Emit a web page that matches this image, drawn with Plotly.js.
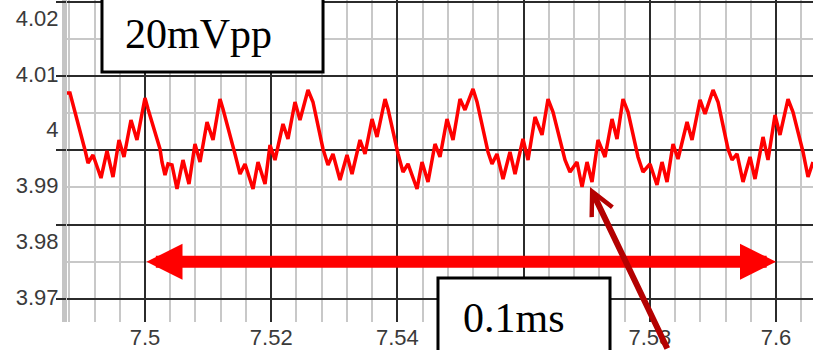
<!DOCTYPE html>
<html>
<head>
<meta charset="utf-8">
<script src="https://cdn.plot.ly/plotly-3.0.1.min.js"></script>
<style>html,body{margin:0;padding:0;background:#fff;}#chart{width:813px;height:350px;}</style>
</head>
<body>
<div id="chart"></div>
<script>
// time axis (ms) and ripple voltage (V)
const timeMs = [
  7.48732, 7.48811, 7.49049, 7.49097, 7.49176, 7.49303, 7.49398, 7.49493, 7.49588, 7.49667, 7.49778, 7.49873, 7.50000,
  7.50048, 7.50238, 7.50269, 7.50317, 7.50365, 7.50428, 7.50507, 7.50602, 7.50697, 7.50792, 7.50872, 7.50983, 7.51078, 7.51189,
  7.51236, 7.51426, 7.51506, 7.51585, 7.51712, 7.51791, 7.51902, 7.51981, 7.52060, 7.52187, 7.52266, 7.52377, 7.52456, 7.52583,
  7.52662, 7.52821, 7.52900, 7.52979, 7.53090, 7.53201, 7.53281, 7.53407, 7.53487, 7.53598, 7.53677, 7.53804,
  7.53851, 7.54010, 7.54089, 7.54168, 7.54311, 7.54390, 7.54485, 7.54596, 7.54675, 7.54786, 7.54881, 7.54992, 7.55071, 7.55198,
  7.55262, 7.55436, 7.55499, 7.55578, 7.55674, 7.55784, 7.55864, 7.55990, 7.56070, 7.56181, 7.56292, 7.56387,
  7.56466, 7.56656, 7.56735, 7.56846, 7.56926, 7.57005, 7.57084, 7.57179, 7.57290, 7.57401, 7.57480, 7.57575,
  7.57655, 7.57813, 7.57892, 7.58003, 7.58114, 7.58193, 7.58273, 7.58368, 7.58447, 7.58590, 7.58669, 7.58796, 7.58875, 7.59002,
  7.59081, 7.59239, 7.59303, 7.59382, 7.59477, 7.59588, 7.59667, 7.59794, 7.59873, 7.59984, 7.60063, 7.60190,
  7.60269, 7.60428, 7.60507, 7.60586
];
const voltage = [
  4.00695, 4.00695, 3.99673, 3.99439, 3.99583, 3.99170, 3.99655, 3.99188, 3.99852, 3.99547, 4.00211, 3.99852, 4.00605,
  4.00408, 3.99691, 3.99457, 3.99224, 3.99422, 3.99404, 3.98973, 3.99493, 3.99063, 3.99780, 3.99457, 4.00175, 3.99852, 4.00587,
  4.00408, 3.99601, 3.99242, 3.99422, 3.98973, 3.99457, 3.99063, 3.99762, 3.99493, 4.00139, 3.99870, 4.00534, 4.00211, 4.00749,
  4.00534, 3.99691, 3.99404, 3.99601, 3.99135, 3.99583, 3.99242, 3.99852, 3.99601, 4.00229, 3.99906, 4.00587,
  4.00408, 3.99601, 3.99278, 3.99422, 3.98973, 3.99457, 3.99099, 3.99780, 3.99547, 4.00229, 3.99852, 4.00587, 4.00390, 4.00767,
  4.00534, 3.99637, 3.99422, 3.99601, 3.99152, 3.99637, 3.99242, 3.99870, 3.99493, 4.00265, 3.99942, 4.00587,
  4.00354, 3.99493, 3.99278, 3.99457, 3.99009, 3.99457, 3.99099, 3.99852, 3.99547, 4.00229, 3.99870, 4.00587,
  4.00354, 3.99547, 3.99278, 3.99422, 3.99045, 3.99457, 3.99099, 3.99780, 3.99511, 4.00175, 3.99852, 4.00570, 4.00318, 4.00749,
  4.00534, 3.99691, 3.99493, 3.99601, 3.99099, 3.99547, 3.99152, 3.99906, 3.99493, 4.00300, 3.99942, 4.00587,
  4.00354, 3.99637, 3.99188, 3.99457
];
const xTickVals = [7.5, 7.52, 7.54, 7.56, 7.58, 7.6];
const xTickText = ['7.5', '7.52', '7.54', '7.56', '7.58', '7.6'];
const yTickVals = [3.97, 3.98, 3.99, 4.0, 4.01, 4.02];
const yTickText = ['3.97', '3.98', '3.99', '4', '4.01', '4.02'];
const rippleLabel = '20mVpp';
const spanLabel = '0.1ms';
const spanStart = 7.5, spanEnd = 7.6, spanLevel = 3.97667;
const troughTime = 7.57052, troughVolt = 3.99009;

const X_RANGE = [7.48764, 7.60586];
const Y_RANGE = [3.96587, 4.02363];
const MAJOR = '#2b2b2b', MINOR = '#c8c8c8';
const tickFont = {family: 'Liberation Sans, Arial, sans-serif', size: 22, color: '#3a3a3a'};

const traces = [
  {x: timeMs, y: voltage, type: 'scatter', mode: 'lines',
   line: {color: '#ff0000', width: 3.5}, showlegend: false, hoverinfo: 'skip'},
  {x: [], y: [], type: 'scatter', mode: 'lines', yaxis: 'y2', showlegend: false, hoverinfo: 'skip'}
];

const layout = {
  width: 813, height: 350,
  margin: {l: 67, r: 0, t: 0, b: 28, pad: 0},
  paper_bgcolor: '#ffffff', plot_bgcolor: '#ffffff',
  showlegend: false,
  xaxis: {
    range: X_RANGE, tickmode: 'array', tickvals: xTickVals, ticktext: xTickText,
    ticks: '', showline: false, zeroline: false,
    showgrid: true, gridcolor: MAJOR, gridwidth: 2,
    minor: {tickmode: 'linear', tick0: 7.5, dtick: 0.004, showgrid: true, gridcolor: MINOR, gridwidth: 2, ticks: ''},
    tickfont: tickFont, ticklabelstandoff: 0
  },
  yaxis: {
    range: Y_RANGE, tickmode: 'array', tickvals: yTickVals, ticktext: yTickText,
    ticks: '', showgrid: false, zeroline: false,
    showline: true, linecolor: '#c4c4c4', linewidth: 5,
    tickfont: tickFont, ticklabelstandoff: -1, ticklabelshift: -2
  },
  yaxis2: {
    range: Y_RANGE, overlaying: 'y', anchor: 'x', side: 'left',
    tickmode: 'linear', tick0: 3.97, dtick: 0.04 / 3,
    ticks: 'outside', ticklen: 10, tickwidth: 2, tickcolor: MAJOR,
    showticklabels: false, zeroline: false, showline: false,
    showgrid: true, gridcolor: MAJOR, gridwidth: 2,
    minor: {tickmode: 'linear', tick0: 3.97, dtick: 0.02 / 3, showgrid: true, gridcolor: MINOR, gridwidth: 2, ticks: ''}
  },
  shapes: [
    {type: 'rect', xref: 'paper', yref: 'paper', x0: 0.0469, x1: 0.3432, y0: 0.7764, y1: 1.1,
     fillcolor: '#ffffff', line: {color: '#000000', width: 3}, layer: 'above'},
    {type: 'rect', xref: 'paper', yref: 'paper', x0: 0.4973, x1: 0.7279, y0: -0.3, y1: 0.1366,
     fillcolor: '#ffffff', line: {color: '#000000', width: 3}, layer: 'above'}
  ],
  annotations: [
    {xref: 'paper', yref: 'paper', x: 0.1769, y: 0.895, xanchor: 'center', yanchor: 'middle',
     text: rippleLabel, showarrow: false,
     font: {family: 'Liberation Serif, Times New Roman, serif', size: 42, color: '#000000'}},
    {xref: 'paper', yref: 'paper', x: 0.5992, y: 0.012, xanchor: 'center', yanchor: 'middle',
     text: spanLabel, showarrow: false,
     font: {family: 'Liberation Serif, Times New Roman, serif', size: 42, color: '#000000'}},
    {xref: 'x', yref: 'y', axref: 'x', ayref: 'y', x: spanEnd, y: spanLevel, ax: spanStart, ay: spanLevel,
     text: '', showarrow: true, arrowside: 'end+start', arrowhead: 2, startarrowhead: 2,
     arrowwidth: 12, arrowsize: 0.6, startarrowsize: 0.6, arrowcolor: '#ff0000', standoff: 0, startstandoff: 0},
    {xref: 'x', yref: 'y', x: troughTime, y: troughVolt, ax: 78, ay: 172,
     text: '', showarrow: true, arrowhead: 5, arrowwidth: 6, arrowsize: 0.75, arrowcolor: '#b40000', standoff: 0}
  ]
};

Plotly.newPlot('chart', traces, layout, {staticPlot: true, displayModeBar: false});
</script>
</body>
</html>
